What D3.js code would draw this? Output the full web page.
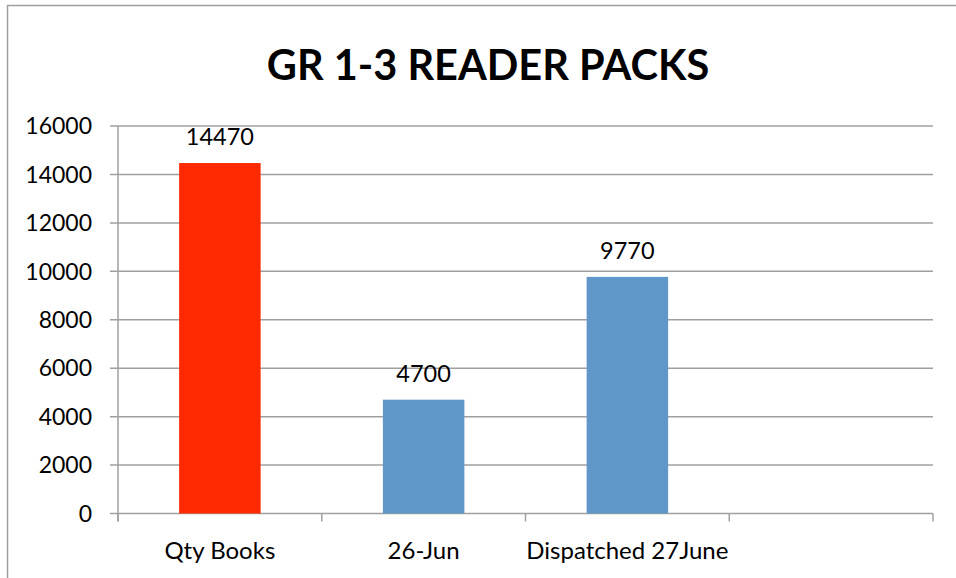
<!DOCTYPE html>
<html>
<head>
<meta charset="utf-8">
<script src="https://cdn.jsdelivr.net/npm/d3@7"></script>
<style>
  body { margin: 0; background: #fff; }
  text { font-family: Lato, "Open Sans", sans-serif; fill: #000; }
</style>
</head>
<body>
<div id="chart"></div>
<script>
// chart data
const categories = ["Qty Books", "26-Jun", "Dispatched 27June", ""];
const values = [14470, 4700, 9770, null];
const barColors = ["#ff2900", "#6196c9", "#6196c9", "#6196c9"];
const yTicks = [0, 2000, 4000, 6000, 8000, 10000, 12000, 14000, 16000];
const title = "GR 1-3 READER PACKS";

const width = 956;
const height = 578;
const plotLeft = 118, plotRight = 933, plotTop = 126, plotBottom = 513.5;
const gridColor = "#a0a0a0";

const svg = d3.select("#chart")
    .append("svg")
    .attr("width", width)
    .attr("height", height);

// outer frame (cut off on right and bottom like the reference)
svg.append("rect")
    .attr("x", 7.5)
    .attr("y", 5.5)
    .attr("width", 1000)
    .attr("height", 1000)
    .attr("fill", "none")
    .attr("stroke", gridColor)
    .attr("stroke-width", 1.5);

svg.append("text")
    .attr("x", 488)
    .attr("y", 80)
    .attr("text-anchor", "middle")
    .style("font-size", "41.5px")
    .style("font-weight", "bold")
    .text(title);

const x = d3.scaleBand()
    .domain(categories)
    .range([plotLeft, plotRight])
    .padding(0);

const y = d3.scaleLinear()
    .domain([0, 16000])
    .range([plotBottom, plotTop]);

// gridlines
svg.append("g")
    .selectAll("line")
    .data(yTicks)
    .enter()
    .append("line")
    .attr("x1", plotLeft - 8)
    .attr("x2", plotRight)
    .attr("y1", d => y(d))
    .attr("y2", d => y(d))
    .attr("stroke", gridColor)
    .attr("stroke-width", 1.5);

// y axis line
svg.append("line")
    .attr("x1", plotLeft).attr("x2", plotLeft)
    .attr("y1", plotTop).attr("y2", plotBottom + 8)
    .attr("stroke", gridColor)
    .attr("stroke-width", 1.5);

// x tick marks at band edges
const edges = categories.map(c => x(c)).concat([plotRight]);
svg.append("g")
    .selectAll("line")
    .data(edges)
    .enter()
    .append("line")
    .attr("x1", d => d).attr("x2", d => d)
    .attr("y1", plotBottom).attr("y2", plotBottom + 8)
    .attr("stroke", gridColor)
    .attr("stroke-width", 1.5);

// y tick labels
svg.append("g")
    .selectAll("text")
    .data(yTicks)
    .enter()
    .append("text")
    .attr("x", 92)
    .attr("y", d => y(d))
    .attr("dy", "0.36em")
    .attr("text-anchor", "end")
    .style("font-size", "23px")
    .text(d => d);

// bars
const barW = x.bandwidth() * 0.4;
const barData = categories.map((c, i) => ({ c: c, v: values[i], color: barColors[i] }))
    .filter(d => d.v != null);

svg.append("g")
    .selectAll("rect")
    .data(barData)
    .enter()
    .append("rect")
    .attr("x", d => x(d.c) + x.bandwidth() / 2 - barW / 2)
    .attr("y", d => y(d.v))
    .attr("width", barW)
    .attr("height", d => plotBottom - y(d.v))
    .attr("fill", d => d.color);

// value labels
svg.append("g")
    .selectAll("text")
    .data(barData)
    .enter()
    .append("text")
    .attr("x", d => x(d.c) + x.bandwidth() / 2)
    .attr("y", d => y(d.v) - 18)
    .attr("text-anchor", "middle")
    .style("font-size", "23.5px")
    .text(d => d.v);

// category labels
svg.append("g")
    .selectAll("text")
    .data(categories)
    .enter()
    .append("text")
    .attr("x", d => x(d) + x.bandwidth() / 2)
    .attr("y", 559)
    .attr("text-anchor", "middle")
    .style("font-size", "24px")
    .text(d => d);
</script>
</body>
</html>
